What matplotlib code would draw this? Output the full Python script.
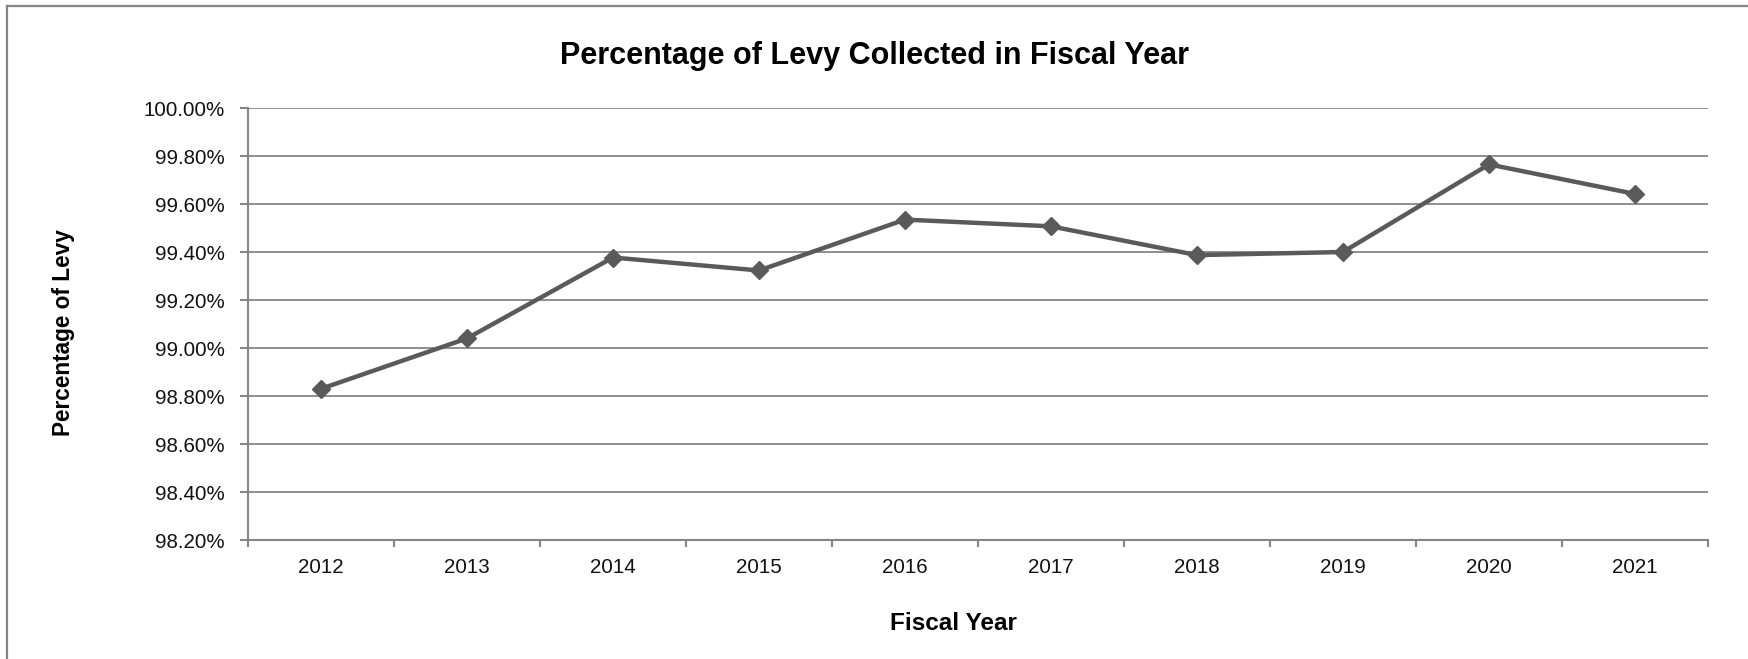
import matplotlib.pyplot as plt
from matplotlib.lines import Line2D
from matplotlib.ticker import FixedLocator, FuncFormatter, NullFormatter

plt.rcParams['font.family'] = ['Liberation Sans', 'DejaVu Sans']

years = ["2012", "2013", "2014", "2015", "2016", "2017", "2018", "2019", "2020", "2021"]
pct_collected = [98.83, 99.04, 99.377, 99.323, 99.535, 99.507, 99.387, 99.40, 99.765, 99.642]
y_ticks = [98.2, 98.4, 98.6, 98.8, 99.0, 99.2, 99.4, 99.6, 99.8, 100.0]

grey = "#868686"
line_col = "#5a5a5a"

fig = plt.figure(figsize=(17.49, 6.59), dpi=100)
ax = fig.add_axes([248/1749, 1-540/659, (1708-248)/1749, (540-108)/659])

x = list(range(len(years)))
ax.plot(x, pct_collected, color=line_col, linewidth=3.2, marker="D", markersize=9,
        markerfacecolor=line_col, markeredgecolor=line_col, zorder=3)

ax.set_xlim(-0.5, len(years) - 0.5)
ax.set_ylim(y_ticks[0], y_ticks[-1])

ax.xaxis.set_major_locator(FixedLocator([i - 0.5 for i in range(len(years) + 1)]))
ax.xaxis.set_major_formatter(NullFormatter())
ax.xaxis.set_minor_locator(FixedLocator(x))
ax.set_xticklabels(years, minor=True)
ax.tick_params(axis="x", which="major", direction="out", length=5, width=1.5, color=grey)
ax.tick_params(axis="x", which="minor", length=0, pad=13, labelsize=14.8, labelcolor="#111111")

ax.set_yticks(y_ticks)
ax.yaxis.set_major_formatter(FuncFormatter(lambda v, p: "%.2f%%" % v))
ax.tick_params(axis="y", direction="out", length=6, width=1.5, color=grey, pad=11,
               labelsize=14.8, labelcolor="#111111")

ax.grid(axis="y", color=grey, linewidth=1.3)
ax.set_axisbelow(True)
for s in ["top", "right"]:
    ax.spines[s].set_visible(False)
for s in ["left", "bottom"]:
    ax.spines[s].set_color(grey)
    ax.spines[s].set_linewidth(1.5)

fig.text(0.5, 1-56/659, "Percentage of Levy Collected in Fiscal Year", ha="center", va="center",
         fontsize=22, fontweight="bold")
fig.text(953/1749, 1-623/659, "Fiscal Year", ha="center", va="center", fontsize=17.5, fontweight="bold")
fig.text(64/1749, 1-333/659, "Percentage of Levy", ha="center", va="center", rotation=90,
         fontsize=16.3, fontweight="bold")

# outer chart border (left and top edges visible)
fig.add_artist(Line2D([7.5/1749, 7.5/1749], [0, 1-6/659], color=grey, linewidth=1.6))
fig.add_artist(Line2D([7.5/1749, 1], [1-6/659, 1-6/659], color=grey, linewidth=1.6))

fig.savefig("out.png", dpi=100, facecolor="white")
